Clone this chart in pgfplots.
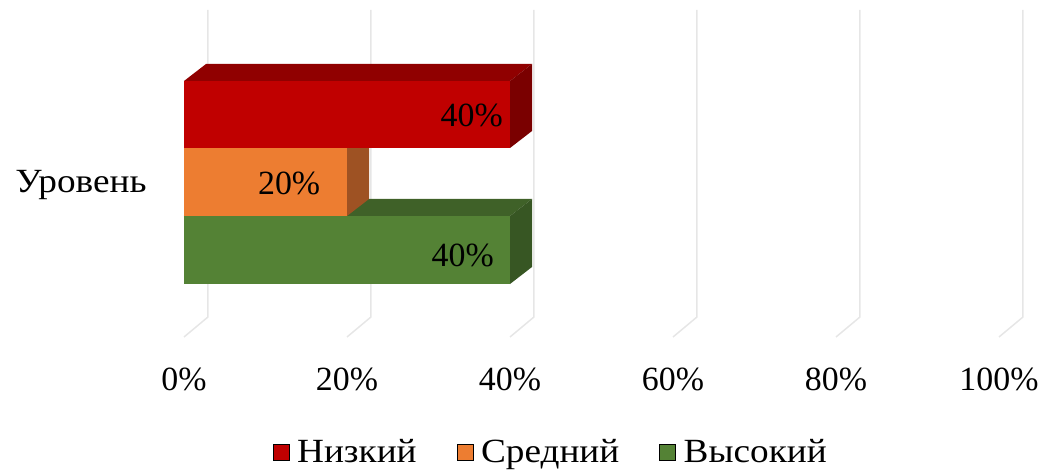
\documentclass[border=0pt]{standalone}
\usepackage{fontspec}
\setmainfont{Liberation Serif}
\usepackage{pgfplots}
\pgfplotsset{compat=1.18}

\definecolor{lowF}{HTML}{C00000}
\definecolor{lowT}{HTML}{900000}
\definecolor{lowS}{HTML}{7A0000}
\definecolor{midF}{HTML}{ED7D31}
\definecolor{midS}{HTML}{9E5223}
\definecolor{highF}{HTML}{548235}
\definecolor{highT}{HTML}{3F6128}
\definecolor{highS}{HTML}{375623}
\definecolor{gridc}{HTML}{E6E6E6}

% depth of the 3D bars (x in %, y in bp)
\def\dx{2.7}
\def\dy{17}
% the Cyrillic words are set a little wider in the reference
\newcommand{\wide}[1]{\scalebox{1.1}[1]{#1}}

\begin{document}
\begin{tikzpicture}
\begin{axis}[
    scale only axis,
    width=815bp, height=327bp,
    xmin=0, xmax=100, ymin=0, ymax=327,
    clip=false,
    axis line style={draw=none},
    major tick length=0pt,
    xtick={0,20,40,60,80,100},
    xticklabels={0\%,20\%,40\%,60\%,80\%,100\%},
    ytick={152}, yticklabels={\wide{Уровень}},
    xticklabel style={anchor=north, yshift=-27bp},
    yticklabel style={anchor=east, xshift=-34bp},
    font=\fontsize{34}{40}\selectfont,
    legend style={at={(0.45,-0.352)}, anchor=center, draw=none,
        legend columns=-1, font=\fontsize{34}{40}\selectfont,
        /tikz/every odd column/.append style={column sep=6bp},
        /tikz/every even column/.append style={column sep=38bp}},
    legend image code/.code={\fill[#1] (0bp,-8bp) rectangle (16bp,8bp);},
]
% back wall and floor grid
\pgfplotsinvokeforeach{0,20,40,60,80,100}{
  \addplot[gridc, line width=1.5bp, forget plot]
    coordinates {(#1,0) (#1+2.94,20) (#1+2.94,327)};
}

% Высокий = 40
\addplot[fill=highT, draw=none, forget plot]
  coordinates {(0,121) (40,121) (40+\dx,121+\dy) (\dx,121+\dy)} --cycle;
\addplot[fill=highS, draw=none, forget plot]
  coordinates {(40,53) (40+\dx,53+\dy) (40+\dx,121+\dy) (40,121)} --cycle;
\addplot[fill=highF, draw=none, forget plot]
  coordinates {(0,53) (40,53) (40,121) (0,121)} --cycle;

% Средний = 20
\addplot[fill=midS, draw=none, forget plot]
  coordinates {(20,121) (20+\dx,121+\dy) (20+\dx,189+\dy) (20,189)} --cycle;
\addplot[fill=midF, draw=none, forget plot]
  coordinates {(0,121) (20,121) (20,189) (0,189)} --cycle;

% Низкий = 40
\addplot[fill=lowT, draw=none, forget plot]
  coordinates {(0,256) (40,256) (40+\dx,256+\dy) (\dx,256+\dy)} --cycle;
\addplot[fill=lowS, draw=none, forget plot]
  coordinates {(40,189) (40+\dx,189+\dy) (40+\dx,256+\dy) (40,256)} --cycle;
\addplot[fill=lowF, draw=none, forget plot]
  coordinates {(0,189) (40,189) (40,256) (0,256)} --cycle;

% data labels
\node at (axis cs:35.3,222) {40\%};
\node at (axis cs:12.9,154) {20\%};
\node at (axis cs:34.2,82) {40\%};

\addlegendimage{fill=lowF}
\addlegendentry{\wide{Низкий}}
\addlegendimage{fill=midF}
\addlegendentry{\wide{Средний}}
\addlegendimage{fill=highF}
\addlegendentry{\wide{Высокий}}

% page size of the reference
\path (axis cs:0,0) ++(-184bp,-136bp) rectangle ++(1046bp,473bp);
\end{axis}
\end{tikzpicture}
\end{document}
